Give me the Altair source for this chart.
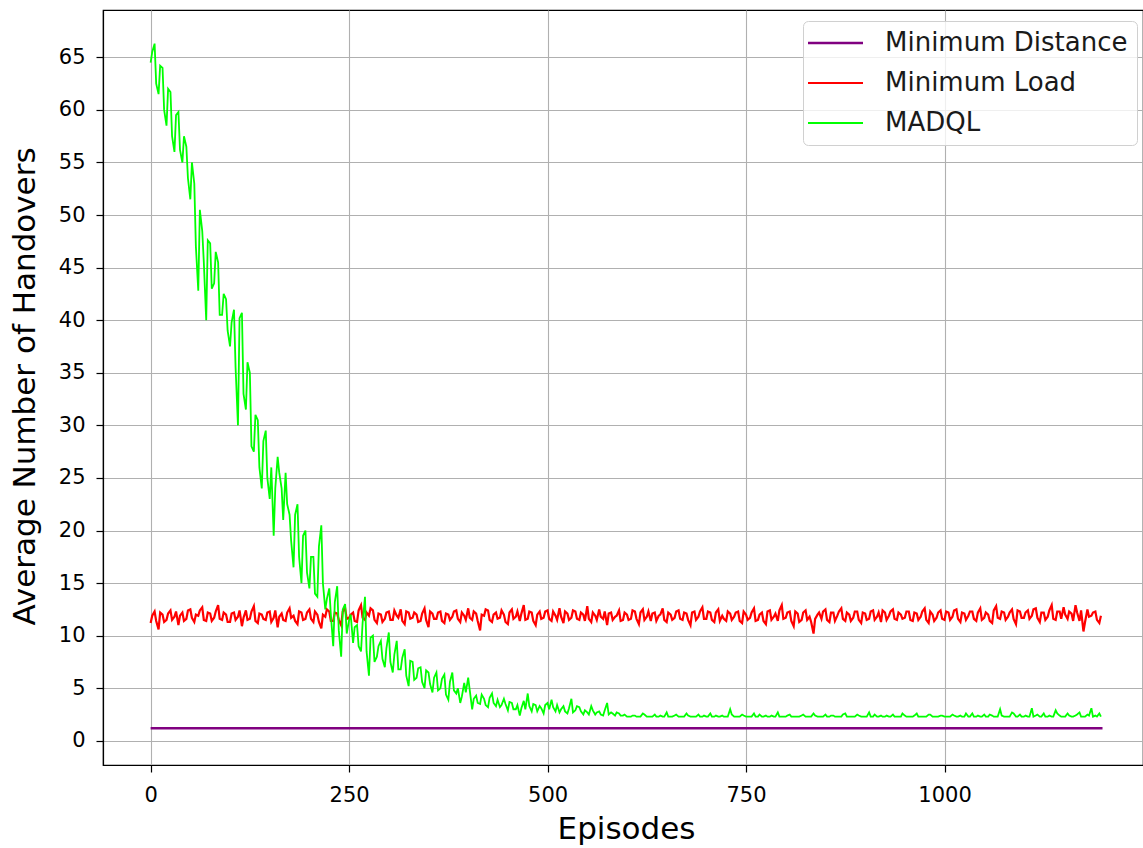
import altair as alt
import pandas as pd

# Episodes sampled every 5 episodes (0 .. 1195) plus interleaved samples (2 .. 1197)
episodes = list(range(0, 1200, 5))
episodes_mid = list(range(2, 1200, 5))

madql = [
    64.5, 66.3, 61.5, 64.0, 58.5, 61.7, 56.0, 59.8, 55.0, 56.5, 51.5, 53.0, 42.8, 48.5, 40.0, 47.3, 43.5, 45.5, 40.5, 42.0,
    37.5, 41.0, 30.0, 40.7, 31.5, 35.0, 27.5, 30.5, 24.0, 29.5, 23.0, 19.5, 27.0, 24.0, 25.5, 21.5, 16.5, 22.5, 15.0, 20.0,
    14.5, 17.5, 13.7, 20.5, 12.5, 14.5, 9.0, 14.7, 8.0, 13.0, 11.5, 9.3, 11.0, 8.5, 13.7, 6.2, 10.0, 8.0, 9.5, 7.0,
    10.3, 6.5, 9.5, 6.8, 8.7, 5.2, 7.5, 6.0, 7.0, 5.0, 6.5, 4.6, 6.5, 5.0, 6.3, 3.9, 6.5, 4.5, 3.6, 5.5,
    6.0, 3.0, 4.3, 3.5, 4.0, 3.2, 4.5, 3.3, 3.2, 4.0, 2.9, 3.6, 3.0, 2.4, 3.8, 4.5, 2.8, 3.4, 3.3, 2.6,
    3.6, 3.9, 2.8, 2.7, 3.3, 2.6, 4.0, 2.9, 3.2, 2.5, 2.7, 3.3, 2.5, 2.8, 2.4, 3.6, 2.7, 2.4, 2.6, 2.4,
    2.3, 2.3, 2.4, 2.3, 2.6, 2.3, 2.3, 2.5, 2.3, 2.3, 2.7, 2.3, 2.4, 2.3, 2.3, 2.6, 2.3, 2.3, 2.5, 2.3,
    2.3, 2.6, 2.3, 2.3, 2.4, 2.3, 3.0, 2.3, 2.3, 2.5, 2.3, 2.3, 2.6, 2.3, 2.3, 2.4, 2.3, 2.3, 2.7, 2.3,
    2.3, 2.5, 2.3, 2.3, 2.4, 2.3, 2.3, 2.6, 2.3, 2.3, 2.5, 2.3, 2.4, 2.3, 2.3, 2.6, 2.3, 2.3, 2.5, 2.3,
    2.3, 2.7, 2.3, 2.3, 2.4, 2.3, 2.3, 2.5, 2.3, 2.3, 2.4, 2.3, 2.3, 2.6, 2.3, 2.3, 2.5, 2.3, 2.3, 2.4,
    2.3, 2.3, 2.5, 2.3, 2.4, 2.3, 2.3, 2.6, 2.3, 2.3, 2.5, 2.3, 2.4, 2.3, 3.0, 2.3, 2.3, 2.7, 2.3, 2.5,
    2.3, 2.3, 3.1, 2.4, 2.3, 2.6, 2.3, 2.3, 2.9, 2.4, 2.3, 2.6, 2.3, 2.4, 2.7, 2.3, 2.5, 3.1, 2.4, 2.6,
]

madql_mid = [
    65.5, 62.5, 64.2, 60.0, 62.0, 57.5, 59.5, 56.2, 57.5, 53.5, 55.0, 47.0, 50.5, 45.5, 47.6, 43.0, 46.5, 40.5, 42.5, 39.0,
    39.8, 35.5, 40.2, 33.0, 36.0, 28.0, 31.0, 26.0, 28.5, 25.0, 26.0, 24.0, 25.5, 21.0, 22.5, 19.0, 21.5, 17.5, 19.5, 16.0,
    17.5, 14.0, 18.5, 15.0, 13.5, 12.0, 13.2, 10.5, 12.5, 10.2, 12.0, 10.8, 9.0, 11.2, 8.5, 9.8, 7.5, 9.0, 7.8, 8.8,
    7.5, 8.2, 6.8, 7.9, 6.2, 7.6, 5.8, 6.9, 5.6, 6.7, 5.4, 6.0, 4.8, 5.9, 4.4, 5.6, 4.8, 5.0, 4.2, 4.6,
    4.8, 4.0, 3.6, 4.4, 3.4, 4.1, 3.6, 3.9, 3.4, 3.5, 3.7, 3.0, 3.4, 3.1, 3.0, 3.3, 3.5, 2.8, 3.1, 3.4,
    3.0, 3.2, 3.4, 3.0, 2.8, 3.1, 2.7, 3.3, 2.8, 2.9, 2.5, 2.9, 2.7, 2.5, 2.9, 2.5, 2.6, 2.7, 2.4, 2.5,
    2.3, 2.4, 2.3, 2.3, 2.5, 2.3, 2.3, 2.3, 2.4, 2.3, 2.3, 2.3, 2.5, 2.3, 2.3, 2.4, 2.3, 2.3, 2.3, 2.4,
    2.3, 2.3, 2.4, 2.3, 2.3, 2.3, 2.5, 2.3, 2.3, 2.4, 2.3, 2.3, 2.3, 2.5, 2.3, 2.3, 2.4, 2.3, 2.3, 2.3,
    2.4, 2.3, 2.3, 2.3, 2.5, 2.3, 2.3, 2.4, 2.3, 2.3, 2.3, 2.4, 2.3, 2.3, 2.5, 2.3, 2.3, 2.3, 2.4, 2.3,
    2.3, 2.3, 2.5, 2.3, 2.3, 2.4, 2.3, 2.3, 2.3, 2.6, 2.3, 2.3, 2.4, 2.3, 2.3, 2.3, 2.5, 2.3, 2.3, 2.4,
    2.3, 2.3, 2.4, 2.3, 2.3, 2.6, 2.3, 2.3, 2.4, 2.3, 2.3, 2.5, 2.3, 2.3, 2.4, 2.3, 2.3, 2.6, 2.3, 2.3,
    2.4, 2.3, 2.3, 2.5, 2.3, 2.3, 2.4, 2.3, 2.6, 2.3, 2.3, 2.4, 2.3, 2.5, 2.3, 2.3, 2.4, 2.3, 2.3, 2.3,
]

min_load = [
    11.2, 12.3, 10.6, 12.0, 11.5, 12.4, 11.8, 11.0, 12.2, 11.6, 12.5, 11.3, 11.9, 12.7, 11.4, 12.1, 11.7, 12.9, 11.5, 12.0,
    11.3, 12.2, 11.8, 10.9, 12.4, 11.6, 12.8, 11.2, 12.0, 11.5, 12.3, 11.7, 10.8, 12.1, 11.4, 12.6, 11.9, 11.1, 12.2, 11.6,
    12.5, 11.3, 12.0, 10.7, 11.8, 12.3, 11.4, 12.1, 11.0, 12.6, 11.7, 12.2, 11.3, 12.9, 11.5, 11.9, 12.4, 11.2, 12.0, 11.6,
    12.3, 11.5, 11.9, 12.5, 11.1, 12.2, 11.7, 12.0, 11.4, 12.6, 10.8, 12.1, 11.6, 12.3, 11.2, 12.0, 11.8, 12.4, 11.3, 11.9,
    12.6, 11.5, 12.1, 10.5, 11.9, 12.4, 11.3, 12.2, 11.7, 12.0, 11.1, 12.5, 11.8, 11.4, 12.9, 11.6, 12.2, 11.0, 12.3, 11.7,
    12.4, 11.4, 11.9, 12.6, 11.2, 12.1, 11.7, 12.3, 11.5, 12.0, 12.8, 11.3, 11.9, 12.5, 11.6, 11.0, 12.2, 11.8, 12.4, 11.5,
    12.0, 11.6, 12.3, 11.1, 12.5, 11.8, 11.4, 12.2, 11.9, 12.6, 11.3, 12.0, 11.7, 12.4, 11.5, 12.1, 11.0, 12.3, 11.8, 12.7,
    11.6, 12.2, 11.3, 12.5, 11.9, 11.4, 12.1, 11.8, 12.3, 11.2, 12.0, 11.7, 12.6, 11.5, 12.2, 11.1, 12.4, 11.8, 11.4, 12.9,
    11.7, 12.3, 10.9, 12.1, 11.5, 12.4, 11.8, 10.2, 12.0, 11.6, 12.5, 11.3, 12.2, 11.9, 12.6, 11.4, 12.0, 11.7, 12.3, 11.2,
    12.1, 11.6, 12.4, 11.8, 11.3, 12.2, 11.9, 12.5, 11.5, 12.0, 11.7, 12.3, 11.4, 12.1, 11.8, 12.6, 11.2, 12.0, 11.7, 12.4,
    11.5, 12.2, 11.8, 12.5, 11.3, 12.1, 11.9, 12.3, 11.4, 12.6, 11.7, 12.0, 11.2, 12.8, 11.6, 12.2, 11.8, 12.5, 11.1, 12.3,
    11.7, 12.4, 11.9, 12.6, 11.3, 12.2, 11.8, 12.9, 11.5, 12.3, 12.7, 11.6, 12.1, 12.9, 11.4, 10.4, 12.5, 11.9, 12.3, 11.2,
]

min_load_mid = [
    11.9, 11.4, 12.2, 11.3, 12.1, 11.5, 12.3, 11.9, 11.4, 12.4, 11.7, 12.0, 12.4, 11.5, 12.2, 11.4, 12.3, 11.6, 12.2, 11.3,
    12.1, 11.5, 12.4, 11.7, 11.5, 12.3, 11.4, 12.1, 11.6, 12.2, 11.3, 12.4, 11.8, 11.5, 12.2, 11.7, 11.4, 12.3, 11.5, 12.2,
    11.6, 12.3, 11.3, 12.0, 12.5, 11.4, 12.2, 11.5, 12.3, 11.6, 12.0, 11.4, 12.4, 11.7, 12.2, 12.6, 11.5, 12.1, 11.3, 12.2,
    11.5, 12.4, 11.7, 11.4, 12.3, 11.6, 12.2, 11.3, 12.1, 11.5, 12.3, 11.6, 12.2, 11.4, 12.1, 11.5, 12.3, 11.6, 12.2, 11.5,
    11.7, 12.3, 11.4, 12.0, 12.5, 11.5, 12.0, 11.6, 12.4, 11.3, 12.2, 11.6, 12.3, 12.1, 11.5, 12.3, 11.4, 12.0, 11.6, 12.3,
    11.6, 12.3, 11.5, 11.8, 12.3, 11.5, 12.4, 11.6, 12.2, 11.4, 11.6, 12.2, 11.5, 11.8, 12.3, 12.1, 11.5, 11.9, 11.4, 12.2,
    11.5, 12.4, 11.6, 12.2, 11.5, 12.3, 12.1, 11.4, 12.0, 11.5, 12.2, 11.5, 12.3, 11.6, 12.2, 11.5, 12.2, 11.5, 12.3, 11.6,
    12.3, 11.5, 12.2, 11.4, 11.6, 12.3, 11.5, 12.2, 11.4, 12.3, 11.5, 12.2, 11.4, 12.0, 11.4, 12.3, 11.5, 12.1, 12.4, 11.6,
    12.2, 11.4, 12.3, 11.3, 12.2, 11.5, 11.3, 11.6, 12.2, 12.3, 11.5, 12.2, 11.4, 12.3, 11.6, 12.2, 11.4, 12.3, 11.5, 12.2,
    11.5, 12.3, 11.5, 12.2, 12.4, 11.5, 12.3, 11.6, 12.2, 11.6, 12.3, 11.5, 12.2, 11.5, 12.3, 11.5, 12.3, 11.4, 12.2, 11.6,
    12.3, 11.5, 12.4, 11.6, 12.2, 11.5, 12.3, 11.6, 12.2, 11.5, 12.2, 11.4, 12.4, 11.7, 12.3, 11.5, 12.2, 11.6, 12.4, 11.7,
    12.2, 11.6, 12.5, 11.7, 12.2, 11.5, 12.4, 11.6, 12.3, 11.6, 12.0, 12.3, 11.4, 12.2, 12.4, 11.3, 11.8, 12.2, 11.5, 11.9,
]

min_dist_episodes = [0, 1199]
min_dist = [1.2, 1.2]

series_names = ["Minimum Distance", "Minimum Load", "MADQL"]
series_colors = ["#800080", "#ff0000", "#00ff00"]
series_widths = [2.6, 1.8, 1.8]

df = pd.concat([
    pd.DataFrame({"episode": min_dist_episodes, "value": min_dist, "series": series_names[0]}),
    pd.DataFrame({"episode": episodes + episodes_mid, "value": min_load + min_load_mid,
                  "series": series_names[1]}),
    pd.DataFrame({"episode": episodes + episodes_mid, "value": madql + madql_mid,
                  "series": series_names[2]}),
], ignore_index=True).sort_values(["series", "episode"]).reset_index(drop=True)

FONT = "DejaVu Sans"

x_enc = alt.X(
    "episode:Q",
    scale=alt.Scale(domain=[-60, 1250], nice=False, zero=False),
    axis=alt.Axis(values=[0, 250, 500, 750, 1000], format="d", title="Episodes",
                  labelPadding=12, titleY=64, titleBaseline="middle", titleX=523),
)
y_enc = alt.Y(
    "value:Q",
    scale=alt.Scale(domain=[-2.3, 69.5], nice=False, zero=False),
    axis=alt.Axis(values=list(range(0, 70, 5)), title="Average Number of Handovers",
                  labelPadding=11,
                  titleX=-78, titleY=376, titleAngle=270, titleAlign="center",
                  titleBaseline="middle"),
)
color_enc = alt.Color("series:N", scale=alt.Scale(domain=series_names, range=series_colors),
                      legend=alt.Legend(title=None))
width_enc = alt.StrokeWidth("series:N", scale=alt.Scale(domain=series_names, range=series_widths),
                            legend=alt.Legend(title=None))


def layer(name):
    return (
        alt.Chart(df)
        .transform_filter(alt.datum.series == name)
        .mark_line(clip=True)
        .encode(x=x_enc, y=y_enc, color=color_enc, strokeWidth=width_enc)
    )


chart = (
    alt.layer(layer(series_names[0]), layer(series_names[1]), layer(series_names[2]))
    .properties(
        width=1040,
        height=755,
        autosize=alt.AutoSizeParams(type="none"),
        padding={"left": 103, "top": 10, "right": 0, "bottom": 83},
        background="white",
    )
    .configure_view(stroke="black", strokeWidth=1.2)
    .configure_axis(
        labelFont=FONT, labelFontSize=21, labelColor="#000000",
        titleFont=FONT, titleFontSize=31, titleFontWeight="normal", titleColor="#000000",
        domainColor="black", domainWidth=1.2,
        tickColor="black", tickWidth=1.2, tickSize=7,
        gridColor="#b0b0b0", gridWidth=1.1, grid=True,
    )
    .configure_legend(
        orient="none", legendX=700, legendY=11,
        symbolType="M -1.7 0 H 3.8", symbolSize=400, labelOffset=47,
        labelFont=FONT, labelFontSize=26, labelColor="#1a1a1a", labelLimit=400,
        padding=9, rowPadding=14,
        strokeColor="#d0d0d0", fillColor="rgba(255,255,255,0.8)", cornerRadius=5,
    )
)

chart.save("out.html", embed_options={"renderer": "svg", "actions": False})
